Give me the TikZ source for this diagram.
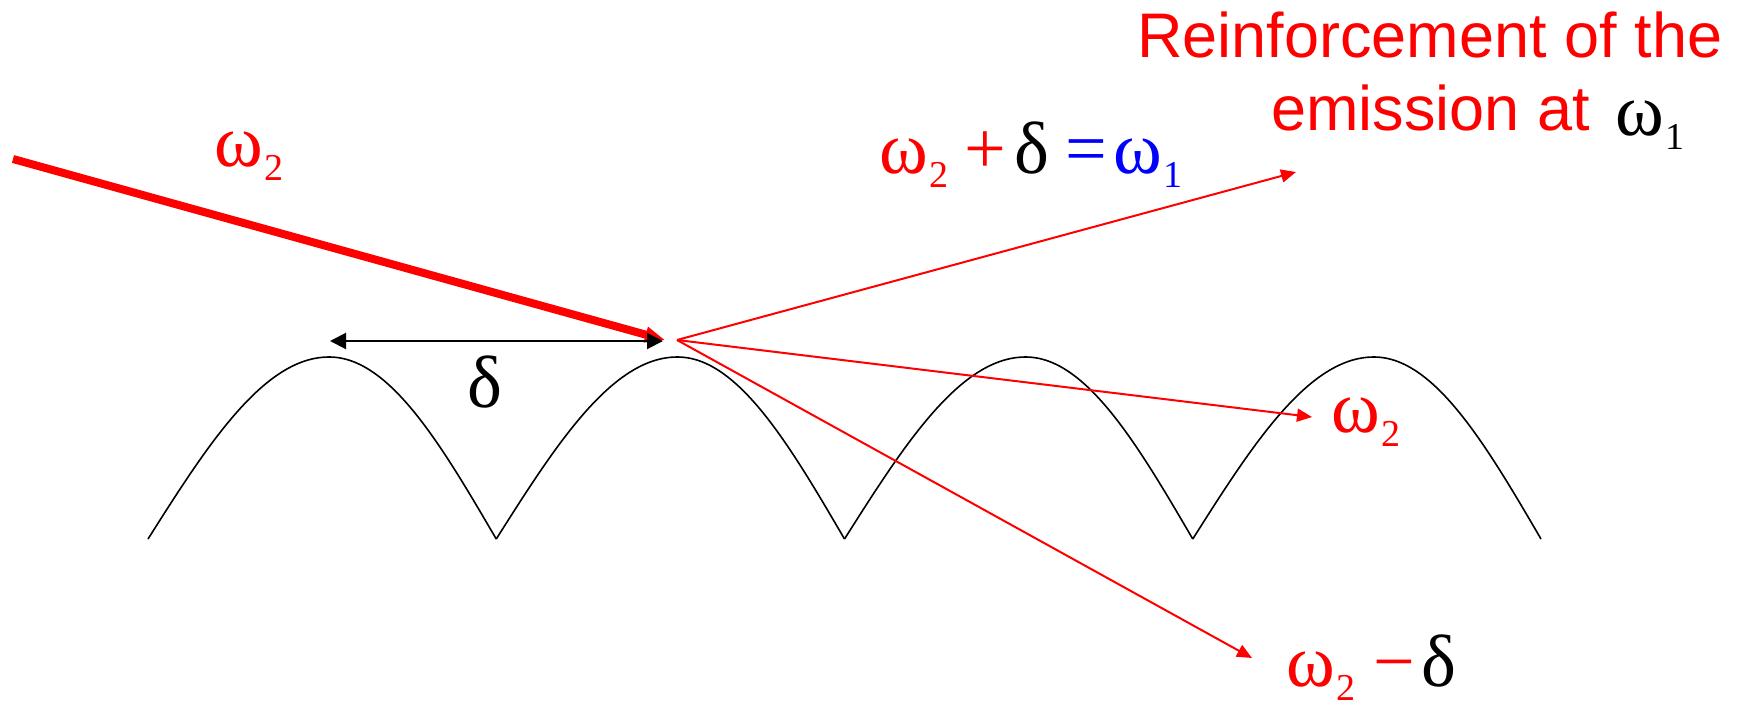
\documentclass[tikz,border=0pt]{standalone}
\usepackage{fontspec}
\usepackage{graphicx}
\setmainfont{Liberation Sans}
\newfontfamily\gr{Liberation Serif}
\usetikzlibrary{arrows.meta}
\newcommand\omsub[1]{{\gr ω}\kern0.5pt\raisebox{-7pt}{\fontsize{19}{20}\selectfont\gr #1}}
\begin{document}
\begin{tikzpicture}[x=0.5pt,y=-0.5pt,
  lbl/.style={inner sep=0pt, anchor=base west, font=\fontsize{37}{40}\selectfont\gr},
  sanslbl/.style={inner sep=0pt, anchor=base west, font=\fontsize{31.5}{36}\selectfont, text=red},
  ray/.style={draw=red, line width=1pt, -{Triangle[length=7.5pt,width=6.5pt]}},
  beam/.style={draw=red, line width=4pt, -{Triangle[length=10pt,width=7.5pt]}},
  span/.style={draw=black, line width=1pt, {Triangle[length=8pt,width=8pt]}-{Triangle[length=8pt,width=8pt]}},
  wave/.style={draw=black, line width=0.8pt, line join=round}]
\useasboundingbox (0,0) rectangle (1747,707);

% surface
\foreach \a in {148,496.25,844.5,1192.75}{
  \draw[wave] plot[domain=0:181,samples=50] ({\a+\x},{539-182*sin(90*\x/181)})
     -- plot[domain=167:0,samples=50] ({\a+348.25-\x},{539-182*sin(90*\x/167)});
}

% coordinates
\coordinate (src) at (13,159);
\coordinate (hit) at (665,340);
\coordinate (o) at (677,340);
\coordinate (pL) at (330,341);
\coordinate (pR) at (663,341);
\coordinate (tUp) at (1296,172);
\coordinate (tMid) at (1312,417);
\coordinate (tDn) at (1252,658);

\draw[beam] (src) -- (hit);
\draw[span] (pL) -- (pR);
\draw[ray] (o) -- (tUp);
\draw[ray] (o) -- (tMid);
\draw[ray] (o) -- (tDn);

% labels
\node[lbl, text=red] (win) at (214,166) {\omsub{2}};
\node[lbl] (dl) at (467,407) {δ};

\node[lbl, text=red] (e1) at (879,173) {\omsub{2}};
\node[lbl, text=red] (e2) at (964,173) {+};
\node[lbl] (e3) at (1014,173) {δ};
\node[lbl, text=blue] (e4) at (1065,173) {=};
\node[lbl, text=blue] (e5) at (1113,173) {\omsub{1}};

\node[sanslbl] (r1) at (1137,57) {Reinforcement of the};
\node[sanslbl] (r2) at (1271,130) {emission at};
\node[lbl] (r3) at (1615,135) {\omsub{1}};

\node[lbl, text=red] (m1) at (1331,432) {\omsub{2}};

\node[lbl, text=red] (d1) at (1286,686) {\omsub{2}};
\node[lbl, text=red] (d2) at (1373,686) {−};
\node[lbl] (d3) at (1421,686) {δ};
\end{tikzpicture}
\end{document}
